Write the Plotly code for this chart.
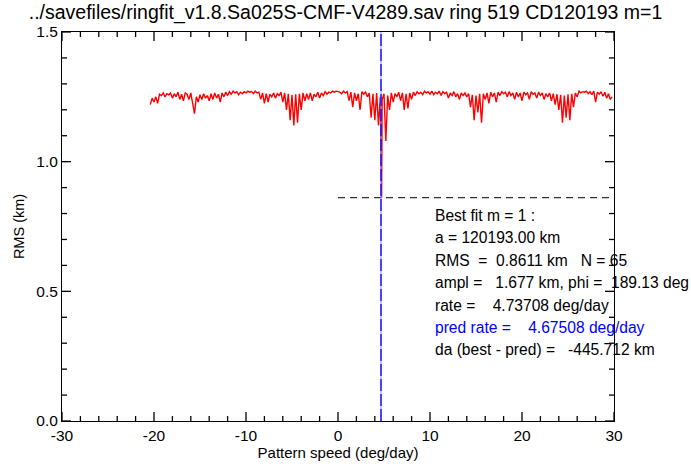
import plotly.graph_objects as go

# ---- data ----
x_start = -20.4
x_step = 0.2
rms_values = [
    1.22, 1.245, 1.23, 1.25, 1.225, 1.26, 1.255, 1.265, 1.25, 1.262,
    1.258, 1.265, 1.245, 1.262, 1.25, 1.268, 1.24, 1.26, 1.235, 1.265,
    1.26, 1.24, 1.265, 1.22, 1.185, 1.25, 1.23, 1.258, 1.24, 1.262,
    1.245, 1.255, 1.235, 1.262, 1.24, 1.265, 1.245, 1.26, 1.23, 1.265,
    1.25, 1.268, 1.255, 1.27, 1.26, 1.272, 1.265, 1.27, 1.258, 1.268,
    1.262, 1.27, 1.265, 1.272, 1.268, 1.27, 1.262, 1.272, 1.265, 1.268,
    1.24, 1.265, 1.225, 1.262, 1.23, 1.26, 1.25, 1.265, 1.245, 1.262,
    1.255, 1.268, 1.23, 1.265, 1.2, 1.262, 1.16, 1.258, 1.14, 1.26,
    1.15, 1.262, 1.2, 1.265, 1.235, 1.262, 1.24, 1.265, 1.235, 1.26,
    1.25, 1.268, 1.245, 1.265, 1.255, 1.27, 1.26, 1.268, 1.265, 1.272,
    1.268, 1.272, 1.27, 1.268, 1.262, 1.272, 1.265, 1.27, 1.235, 1.268,
    1.21, 1.265, 1.235, 1.262, 1.2, 1.27, 1.26, 1.268, 1.25, 1.265,
    1.17, 1.262, 1.16, 1.265, 1.14, 1.25, 1.24, 1.262, 1.08, 1.255,
    1.2, 1.265, 1.23, 1.262, 1.25, 1.268, 1.235, 1.265, 1.2, 1.262,
    1.205, 1.265, 1.24, 1.268, 1.255, 1.27, 1.262, 1.268, 1.258, 1.272,
    1.265, 1.27, 1.26, 1.272, 1.258, 1.268, 1.262, 1.272, 1.255, 1.27,
    1.262, 1.268, 1.245, 1.265, 1.255, 1.27, 1.25, 1.262, 1.24, 1.265,
    1.255, 1.265, 1.25, 1.262, 1.21, 1.258, 1.16, 1.255, 1.19, 1.262,
    1.15, 1.262, 1.24, 1.265, 1.225, 1.268, 1.25, 1.265, 1.23, 1.268,
    1.255, 1.27, 1.262, 1.268, 1.25, 1.27, 1.255, 1.265, 1.24, 1.268,
    1.25, 1.265, 1.235, 1.268, 1.258, 1.265, 1.24, 1.27, 1.26, 1.265,
    1.245, 1.268, 1.255, 1.265, 1.24, 1.262, 1.25, 1.265, 1.235, 1.262,
    1.22, 1.26, 1.2, 1.258, 1.15, 1.255, 1.17, 1.26, 1.16, 1.262,
    1.21, 1.265, 1.25, 1.272, 1.265, 1.27, 1.268, 1.272, 1.262, 1.27,
    1.258, 1.272, 1.23, 1.268, 1.26, 1.27, 1.252, 1.268, 1.245, 1.262, 1.24, 1.25,
]
best_rate = 4.73708
best_rms = 0.8611
pred_rate = 4.67508
rms_line_x = [0, 30]
x_range = [-30, 30]
y_range = [0, 1.5]
x_tickvals = [-30, -20, -10, 0, 10, 20, 30]
x_ticktext = ["-30", "-20", "-10", "0", "10", "20", "30"]
x_minor_vals = [-28, -26, -24, -22, -18, -16, -14, -12, -8, -6, -4, -2,
                2, 4, 6, 8, 12, 14, 16, 18, 22, 24, 26, 28]
y_tickvals = [0.0, 0.5, 1.0, 1.5]
y_ticktext = ["0.0", "0.5", "1.0", "1.5"]
y_minor_vals = [0.1, 0.2, 0.3, 0.4, 0.6, 0.7, 0.8, 0.9, 1.1, 1.2, 1.3, 1.4]
info_lines = [
    "Best fit m = 1 :",
    "a = 120193.00 km",
    "RMS  =  0.8611 km   N = 65",
    "ampl =   1.677 km, phi =  189.13 deg",
    "rate =    4.73708 deg/day",
    "pred rate =    4.67508 deg/day",
    "da (best - pred) =   -445.712 km",
]
info_colors = ["black", "black", "black", "black", "black", "blue", "black"]
title_text = "../savefiles/ringfit_v1.8.Sa025S-CMF-V4289.sav ring 519 CD120193 m=1"

# build series (insert the best-fit minimum into the grid)
pts = [(round(x_start + i * x_step, 3), v) for i, v in enumerate(rms_values)]
pts.append((best_rate, best_rms))
pts.sort()
xs = [p[0] for p in pts]
ys = [p[1] for p in pts]

FONT = "Liberation Sans, Arial, Helvetica, sans-serif"

# layout geometry
W, H = 691, 469
M = dict(l=62, r=77, t=32, b=44)
plot_w = W - M["l"] - M["r"]
plot_h = H - M["t"] - M["b"]
x_span = x_range[1] - x_range[0]
y_span = y_range[1] - y_range[0]
MAJOR_PX, MINOR_PX = 9, 5

# inward IDL-style tick marks on all four sides
tx, ty = [], []
for vals, px in ((x_tickvals, MAJOR_PX), (x_minor_vals, MINOR_PX)):
    L = px / plot_h * y_span
    for v in vals:
        tx += [v, v, None, v, v, None]
        ty += [y_range[0], y_range[0] + L, None, y_range[1], y_range[1] - L, None]
for vals, px in ((y_tickvals, MAJOR_PX), (y_minor_vals, MINOR_PX)):
    L = px / plot_w * x_span
    for v in vals:
        tx += [x_range[0], x_range[0] + L, None, x_range[1], x_range[1] - L, None]
        ty += [v, v, None, v, v, None]

fig = go.Figure()
fig.add_trace(go.Scatter(x=xs, y=ys, mode="lines",
                         line=dict(color="red", width=1.4), showlegend=False,
                         hoverinfo="skip"))
fig.add_trace(go.Scatter(x=rms_line_x, y=[best_rms, best_rms], mode="lines",
                         line=dict(color="black", width=1, dash="7px,5px"),
                         showlegend=False, hoverinfo="skip"))
fig.add_trace(go.Scatter(x=[pred_rate, pred_rate], y=y_range, mode="lines",
                         line=dict(color="rgb(140,140,255)", width=1),
                         showlegend=False, hoverinfo="skip"))
fig.add_trace(go.Scatter(x=[pred_rate, pred_rate], y=y_range, mode="lines",
                         line=dict(color="blue", width=1.3, dash="12px,3px"),
                         showlegend=False, hoverinfo="skip"))
fig.add_trace(go.Scatter(x=tx, y=ty, mode="lines", cliponaxis=False, connectgaps=False,
                         line=dict(color="black", width=1.3),
                         showlegend=False, hoverinfo="skip"))

for i, (t, c) in enumerate(zip(info_lines, info_colors)):
    fig.add_annotation(x=10.3, y=0.793 - i * 0.0865, xref="x", yref="y",
                       text=t.replace(" ", "\u00a0"), showarrow=False,
                       xanchor="left", yanchor="middle",
                       font=dict(family=FONT, size=15.6, color=c))

fig.update_xaxes(range=x_range, tickmode="array", tickvals=x_tickvals, ticktext=x_ticktext,
                 ticks="", showline=True, linecolor="black", linewidth=1, mirror=True,
                 showgrid=False, zeroline=False,
                 tickfont=dict(family=FONT, size=15.5, color="black"),
                 title=dict(text="Pattern speed (deg/day)", font=dict(family=FONT, size=15, color="black"),
                            standoff=3))
fig.update_yaxes(range=y_range, tickmode="array", tickvals=y_tickvals, ticktext=y_ticktext,
                 ticks="", showline=True, linecolor="black", linewidth=1, mirror=True,
                 showgrid=False, zeroline=False,
                 tickfont=dict(family=FONT, size=15.5, color="black"),
                 title=dict(text="RMS (km)", font=dict(family=FONT, size=14.5, color="black"),
                            standoff=8))

fig.update_layout(
    width=W, height=H,
    margin=M,
    paper_bgcolor="white", plot_bgcolor="white",
    title=dict(text=title_text, x=0.5, xanchor="center", y=0.973, yanchor="middle",
               font=dict(family=FONT, size=19.5, color="black")),
)

fig.write_html("out.html")
